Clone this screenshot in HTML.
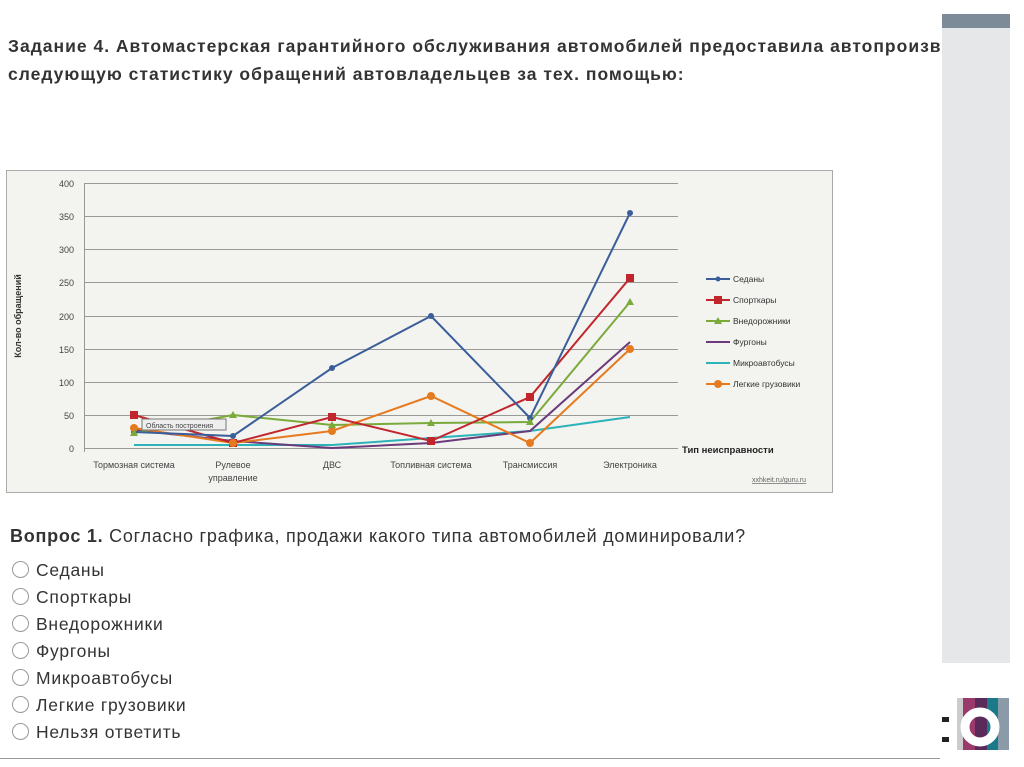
<!DOCTYPE html>
<html><head><meta charset="utf-8"><style>
body{margin:0;width:1024px;height:767px;background:#fff;position:relative;overflow:hidden;font-family:"Liberation Sans",sans-serif;}
.t{position:absolute;left:8px;font-weight:bold;font-size:17.5px;letter-spacing:1.0px;color:#333;white-space:nowrap;}
.q{position:absolute;left:10px;font-size:18px;letter-spacing:0.75px;color:#333;white-space:nowrap;}
.o{position:absolute;left:12px;font-size:17.5px;letter-spacing:0.75px;color:#333;white-space:nowrap;}
.o span{display:inline-block;width:15px;height:15px;border:1px solid #999;border-radius:50%;vertical-align:-2px;margin-right:7px;}
</style></head><body>
<div style="position:absolute;left:0;top:0;width:940px;height:100px;overflow:hidden">
<div class="t" style="top:36px">Задание 4. Автомастерская гарантийного обслуживания автомобилей предоставила автопроизводителю</div>
<div class="t" style="top:64px">следующую статистику обращений автовладельцев за тех. помощью:</div>
</div>
<div style="position:absolute;left:942px;top:14px;width:68px;height:649px;background:#e6e7e9"></div>
<div style="position:absolute;left:942px;top:14px;width:68px;height:14px;background:#7d8a97"></div>
<svg style="position:absolute;left:0;top:0" width="1024" height="767">
<rect x="6.5" y="170.5" width="826" height="322" fill="#f3f3f0" stroke="#aaa"/>
<g stroke="#999" stroke-width="1">
<line x1="84" x2="678" y1="183.5" y2="183.5"/><line x1="84" x2="678" y1="216.5" y2="216.5"/><line x1="84" x2="678" y1="249.5" y2="249.5"/><line x1="84" x2="678" y1="282.5" y2="282.5"/><line x1="84" x2="678" y1="316.5" y2="316.5"/><line x1="84" x2="678" y1="349.5" y2="349.5"/><line x1="84" x2="678" y1="382.5" y2="382.5"/><line x1="84" x2="678" y1="415.5" y2="415.5"/><line x1="84" x2="678" y1="448.5" y2="448.5"/><line x1="84.5" x2="84.5" y1="183" y2="452"/>
</g>
<g font-size="9" fill="#444" text-anchor="end" font-family="Liberation Sans">
<text x="74" y="187">400</text><text x="74" y="220">350</text><text x="74" y="253">300</text><text x="74" y="286">250</text><text x="74" y="320">200</text><text x="74" y="353">150</text><text x="74" y="386">100</text><text x="74" y="419">50</text><text x="74" y="452">0</text>
</g>
<text transform="translate(21,316) rotate(-90)" font-size="9" font-weight="bold" fill="#333" text-anchor="middle">Кол-во обращений</text>
<g font-size="9" fill="#444" text-anchor="middle">
<text x="134" y="468">Тормозная система</text><text x="233" y="468">Рулевое</text><text x="233" y="481">управление</text><text x="332" y="468">ДВС</text><text x="431" y="468">Топливная система</text><text x="530" y="468">Трансмиссия</text><text x="630" y="468">Электроника</text>
</g>
<text x="682" y="453" font-size="9.5" font-weight="bold" fill="#222">Тип неисправности</text>
<text x="752" y="482" font-size="7" fill="#666" text-decoration="underline">xxhkeit.ru/guru.ru</text>
<g fill="none" stroke-width="2">
<polyline stroke="#2bb3b8" points="134,445 233,445 332,445 431,438 530,431 630,417"/>
<polyline stroke="#6b3a7a" points="134,430 233,441 332,448 431,443 530,431 630,342"/>
<polyline stroke="#7aaa3a" points="134,433 233,415 332,425 431,423 530,422 630,302"/>
<polyline stroke="#e67a1e" points="134,428 233,443 332,431 431,396 530,443 630,349"/>
<polyline stroke="#c0262c" points="134,415 233,443 332,417 431,441 530,397 630,278"/>
<polyline stroke="#3a5e9a" points="134,432 233,436 332,368 431,316 530,418 630,213"/>
</g>
<g>
<circle cx="134" cy="432" r="3" fill="#3a5e9a"/><circle cx="233" cy="436" r="3" fill="#3a5e9a"/><circle cx="332" cy="368" r="3" fill="#3a5e9a"/><circle cx="431" cy="316" r="3" fill="#3a5e9a"/><circle cx="530" cy="418" r="3" fill="#3a5e9a"/><circle cx="630" cy="213" r="3" fill="#3a5e9a"/>
<g fill="#c0262c"><rect x="130" y="411" width="8" height="8"/><rect x="229" y="439" width="8" height="8"/><rect x="328" y="413" width="8" height="8"/><rect x="427" y="437" width="8" height="8"/><rect x="526" y="393" width="8" height="8"/><rect x="626" y="274" width="8" height="8"/></g>
<g fill="#e67a1e"><circle cx="134" cy="428" r="4"/><circle cx="233" cy="443" r="4"/><circle cx="332" cy="431" r="4"/><circle cx="431" cy="396" r="4"/><circle cx="530" cy="443" r="4"/><circle cx="630" cy="349" r="4"/></g>
<g fill="#7aaa3a"><path d="M134 429l4 7h-8z"/><path d="M233 411l4 7h-8z"/><path d="M332 421l4 7h-8z"/><path d="M431 419l4 7h-8z"/><path d="M530 418l4 7h-8z"/><path d="M630 298l4 7h-8z"/></g>
</g>
<rect x="142" y="419" width="84" height="11" fill="#eee" stroke="#777"/>
<text x="146" y="428" font-size="7" fill="#444">Область построения</text>
<g stroke-width="2" fill="none">
<line x1="706" x2="730" y1="279" y2="279" stroke="#3a5e9a"/><line x1="706" x2="730" y1="300" y2="300" stroke="#c0262c"/><line x1="706" x2="730" y1="321" y2="321" stroke="#7aaa3a"/><line x1="706" x2="730" y1="342" y2="342" stroke="#6b3a7a"/><line x1="706" x2="730" y1="363" y2="363" stroke="#2bb3b8"/><line x1="706" x2="730" y1="384" y2="384" stroke="#e67a1e"/>
</g>
<circle cx="718" cy="279" r="2.5" fill="#3a5e9a"/><rect x="714" y="296" width="8" height="8" fill="#c0262c"/><path d="M718 317l4 7h-8z" fill="#7aaa3a"/><circle cx="718" cy="384" r="4" fill="#e67a1e"/>
<g font-size="8.5" fill="#333">
<text x="733" y="282">Седаны</text><text x="733" y="303">Спорткары</text><text x="733" y="324">Внедорожники</text><text x="733" y="345">Фургоны</text><text x="733" y="366">Микроавтобусы</text><text x="733" y="387">Легкие грузовики</text>
</g>
<line x1="0" x2="940" y1="758.5" y2="758.5" stroke="#999"/>
<rect x="957" y="698" width="52" height="52" fill="#ccc"/>
<rect x="963" y="698" width="12" height="52" fill="#9a3a6a"/><rect x="975" y="698" width="12" height="52" fill="#5a2a5a"/><rect x="987" y="698" width="11" height="52" fill="#1a7a8a"/><rect x="998" y="698" width="11" height="52" fill="#8a9aa8"/>
<circle cx="980" cy="727" r="15" fill="none" stroke="#fff" stroke-width="9"/>
<rect x="942" y="717" width="7" height="5" fill="#222"/><rect x="942" y="737" width="7" height="5" fill="#222"/>
</svg>
<div class="q" style="top:526px"><b>Вопрос 1.</b> Согласно графика, продажи какого типа автомобилей доминировали?</div>
<div class="o" style="top:560px"><span></span>Седаны</div>
<div class="o" style="top:587px"><span></span>Спорткары</div>
<div class="o" style="top:614px"><span></span>Внедорожники</div>
<div class="o" style="top:641px"><span></span>Фургоны</div>
<div class="o" style="top:668px"><span></span>Микроавтобусы</div>
<div class="o" style="top:695px"><span></span>Легкие грузовики</div>
<div class="o" style="top:722px"><span></span>Нельзя ответить</div>
</body></html>
